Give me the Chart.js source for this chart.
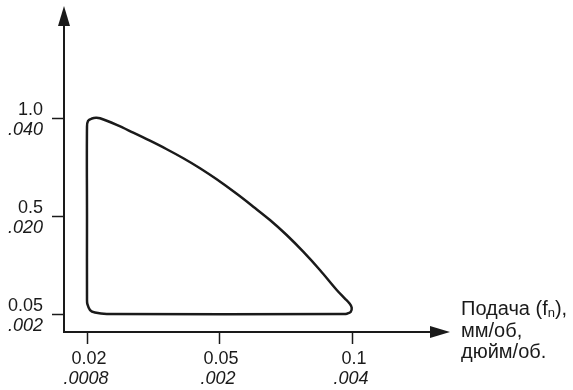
<!DOCTYPE html>
<html>
<head>
<meta charset="utf-8">
<script src="https://cdn.jsdelivr.net/npm/chart.js@4/dist/chart.umd.min.js"></script>
<style>
  html, body { margin: 0; padding: 0; background: #fff; }
  #chart { display: block; }
</style>
</head>
<body>
<canvas id="chart" width="573" height="390"></canvas>
<script>
// Tick labels (metric on top, inch in italics below); ticks sit at index 0,1,2
const xTickMm = ['0.02', '0.05', '0.1'];
const xTickIn = ['.0008', '.002', '.004'];
const yTickMm = ['0.05', '0.5', '1.0'];
const yTickIn = ['.002', '.020', '.040'];
const xTitle = ['Подача (f', 'n', '),', 'мм/об,', 'дюйм/об.'];

// Working area outline, in tick-index units (x: feed step, y: depth step)
const curveX = [0, 0, 0.008, 0.038, 0.068, 0.098, 0.224, 0.349, 0.475, 0.602, 0.727,
  0.853, 0.979, 1.13, 1.255, 1.381, 1.507, 1.632, 1.758, 1.885, 1.945, 1.98, 1.998,
  1.99, 1.962, 1.934, 0.149, 0.06, 0.023, 0.003, 0, 0];
const curveY = [1.0, 1.91, 1.97, 1.995, 2.002, 1.997, 1.929, 1.85, 1.768, 1.681, 1.589,
  1.487, 1.374, 1.226, 1.095, 0.959, 0.806, 0.636, 0.449, 0.245, 0.16, 0.11, 0.065,
  0.02, 0.003, 0, 0, 0.015, 0.04, 0.10, 0.15, 1.0];

const ink = '#1a1a1a';
const family = '"Liberation Sans", Arial, sans-serif';
const font = '18px ' + family;
const fontIt = 'italic 18px ' + family;
const titleFont = '20px ' + family;

const axesPlugin = {
  id: 'axesPlugin',
  afterDraw(chart) {
    const ctx = chart.ctx;
    const a = chart.chartArea;
    const xs = chart.scales.x, ys = chart.scales.y;
    ctx.save();
    ctx.strokeStyle = ink;
    ctx.fillStyle = ink;

    // axis lines
    ctx.lineWidth = 2;
    ctx.beginPath();
    ctx.moveTo(a.left, a.top + 18);
    ctx.lineTo(a.left, a.bottom);
    ctx.lineTo(a.right - 18, a.bottom);
    ctx.stroke();

    // arrowheads
    ctx.beginPath();
    ctx.moveTo(a.left, a.top);
    ctx.lineTo(a.left - 6, a.top + 20);
    ctx.lineTo(a.left + 6, a.top + 20);
    ctx.closePath();
    ctx.fill();
    ctx.beginPath();
    ctx.moveTo(a.right, a.bottom);
    ctx.lineTo(a.right - 20, a.bottom - 6);
    ctx.lineTo(a.right - 20, a.bottom + 6);
    ctx.closePath();
    ctx.fill();

    // ticks and labels
    ctx.lineWidth = 1.5;
    ctx.textBaseline = 'alphabetic';
    xTickMm.forEach((t, i) => {
      const px = Math.round(xs.getPixelForValue(i)) + 0.5;
      ctx.beginPath();
      ctx.moveTo(px, a.bottom);
      ctx.lineTo(px, a.bottom + 12);
      ctx.stroke();
      ctx.textAlign = 'center';
      ctx.font = font;
      ctx.fillText(t, px + 1.5, a.bottom + 32);
      ctx.font = fontIt;
      ctx.fillText(xTickIn[i], px - 1.5, a.bottom + 52);
    });
    yTickMm.forEach((t, i) => {
      const py = Math.round(ys.getPixelForValue(i)) + 0.5;
      ctx.beginPath();
      ctx.moveTo(a.left - 12, py);
      ctx.lineTo(a.left, py);
      ctx.stroke();
      ctx.textAlign = 'right';
      ctx.font = font;
      ctx.fillText(t, a.left - 21, py - 3.5);
      ctx.font = fontIt;
      ctx.fillText(yTickIn[i], a.left - 21, py + 16);
    });

    // x axis title
    ctx.textAlign = 'left';
    ctx.font = titleFont;
    const x0 = a.right + 11;
    let tx = x0;
    const ty = a.bottom - 17;
    ctx.fillText(xTitle[0], tx, ty);
    tx += ctx.measureText(xTitle[0]).width;
    ctx.font = '13px ' + family;
    ctx.fillText(xTitle[1], tx, ty + 2);
    tx += ctx.measureText(xTitle[1]).width;
    ctx.font = titleFont;
    ctx.fillText(xTitle[2], tx, ty);
    ctx.fillText(xTitle[3], x0, ty + 22);
    ctx.fillText(xTitle[4], x0, ty + 43);
    ctx.restore();
  }
};

new Chart(document.getElementById('chart'), {
  type: 'scatter',
  data: {
    datasets: [{
      data: curveX.map((x, i) => ({ x: x, y: curveY[i] })),
      showLine: true,
      borderColor: ink,
      borderWidth: 2.5,
      tension: 0.35,
      pointRadius: 0,
      fill: false
    }]
  },
  options: {
    responsive: false,
    animation: false,
    layout: { padding: { left: 64, right: 123, top: 6, bottom: 58 } },
    plugins: { legend: { display: false }, tooltip: { enabled: false } },
    scales: {
      x: { type: 'linear', min: -0.1736, max: 2.74, display: false },
      y: { type: 'linear', min: -0.184, max: 3.143, display: false }
    }
  },
  plugins: [axesPlugin]
});
</script>
</body>
</html>
